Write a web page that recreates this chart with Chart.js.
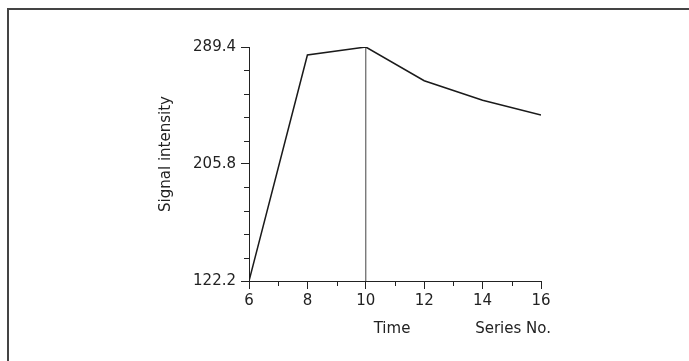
<!DOCTYPE html>
<html>
<head>
<meta charset="utf-8">
<script src="https://cdn.jsdelivr.net/npm/chart.js@4/dist/chart.umd.min.js"></script>
<style>
  html, body { margin: 0; padding: 0; background: #fff; }
  #wrap { position: relative; width: 689px; height: 361px; }
  #frame { position: absolute; left: 7px; top: 8px; right: 0; bottom: 0;
           border-top: 2px solid #444; border-left: 2px solid #444; pointer-events: none; }
</style>
</head>
<body>
<div id="wrap">
  <canvas id="chart" width="689" height="361"></canvas>
  <div id="frame"></div>
</div>
<script>
// --- data ---
const seriesNo = [6, 8, 10, 12, 14, 16];
const signal = [122.2, 283.7, 289.4, 265.3, 251.3, 240.8];
const markerX = 10;
const yTicks = [122.2, 138.92, 155.64, 172.36, 189.08, 205.8, 222.52, 239.24, 255.96, 272.68, 289.4];
const yLabelled = [122.2, 205.8, 289.4];
const yTitle = 'Signal intensity';
const xTitle = 'Time';
const xTitle2 = 'Series No.';

const FONT = 'DejaVu Sans';
const INK = '#222';

const lineData = seriesNo.map((x, i) => ({ x: x, y: signal[i] }));
const peak = signal[seriesNo.indexOf(markerX)];
const dropData = [{ x: markerX, y: yTicks[0] }, { x: markerX, y: peak }];

// minor ticks are shorter than the labelled ones, and the axis titles sit off-centre
const extras = {
  id: 'extras',
  afterDraw(chart) {
    const ctx = chart.ctx;
    const xs = chart.scales.x, ys = chart.scales.y;
    ctx.save();
    ctx.strokeStyle = INK;
    ctx.lineWidth = 1;
    xs.ticks.forEach(t => {
      if (t.value % 2 === 0) return;
      const px = Math.round(xs.getPixelForValue(t.value)) + 0.5;
      ctx.beginPath();
      ctx.moveTo(px, xs.top);
      ctx.lineTo(px, xs.top + 5);
      ctx.stroke();
    });
    ys.ticks.forEach(t => {
      if (yLabelled.includes(t.value)) return;
      const py = Math.round(ys.getPixelForValue(t.value)) + 0.5;
      ctx.beginPath();
      ctx.moveTo(ys.right - 5, py);
      ctx.lineTo(ys.right, py);
      ctx.stroke();
    });

    ctx.fillStyle = INK;
    ctx.font = '15px "' + FONT + '"';
    ctx.textBaseline = 'alphabetic';
    ctx.textAlign = 'center';
    const area = chart.chartArea;
    ctx.fillText(xTitle, area.left + 143, area.bottom + 52);
    ctx.textAlign = 'right';
    ctx.fillText(xTitle2, area.right + 10, area.bottom + 52);

    ctx.translate(area.left - 83, area.top + 107);
    ctx.rotate(-Math.PI / 2);
    ctx.textAlign = 'center';
    ctx.textBaseline = 'middle';
    ctx.fillText(yTitle, 0, 0);
    ctx.restore();
  }
};

new Chart(document.getElementById('chart'), {
  type: 'scatter',
  data: {
    datasets: [
      {
        data: lineData,
        showLine: true,
        borderColor: '#1a1a1a',
        borderWidth: 1.5,
        pointRadius: 0,
        tension: 0
      },
      {
        data: dropData,
        showLine: true,
        borderColor: '#444',
        borderWidth: 1,
        pointRadius: 0
      }
    ]
  },
  options: {
    responsive: false,
    animation: false,
    layout: { padding: { left: 149, right: 148, top: 47, bottom: 30 } },
    plugins: { legend: { display: false }, tooltip: { enabled: false } },
    scales: {
      x: {
        type: 'linear',
        min: 6,
        max: 16,
        afterFit: s => { s.height = 50; },
        border: { display: true, color: INK, width: 1 },
        grid: {
          drawOnChartArea: false,
          tickLength: 8,
          tickColor: c => (c.tick && c.tick.value % 2 === 0) ? INK : 'rgba(0,0,0,0)'
        },
        ticks: {
          stepSize: 1,
          autoSkip: false,
          maxRotation: 0,
          padding: 3,
          color: INK,
          font: { family: FONT, size: 15 },
          callback: v => (v % 2 === 0 ? String(v) : '')
        }
      },
      y: {
        type: 'linear',
        min: yTicks[0],
        max: yTicks[yTicks.length - 1],
        afterFit: s => { s.width = 100; },
        afterBuildTicks: s => { s.ticks = yTicks.map(v => ({ value: v })); },
        border: { display: true, color: INK, width: 1 },
        grid: {
          drawOnChartArea: false,
          tickLength: 8,
          tickColor: c => (c.tick && yLabelled.includes(c.tick.value)) ? INK : 'rgba(0,0,0,0)'
        },
        ticks: {
          autoSkip: false,
          padding: 5,
          color: INK,
          font: { family: FONT, size: 15 },
          callback: v => (yLabelled.includes(v) ? v.toFixed(1) : '')
        }
      }
    }
  },
  plugins: [extras]
});
</script>
</body>
</html>
